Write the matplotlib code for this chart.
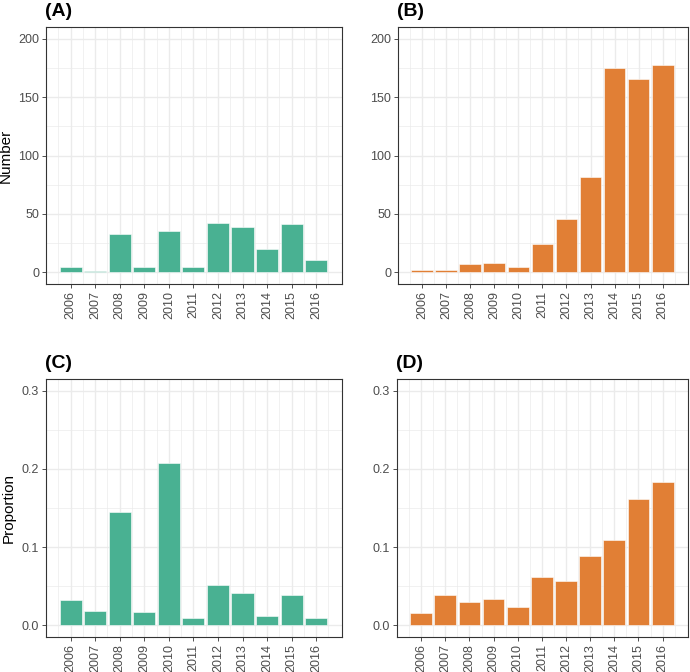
import numpy as np
import matplotlib
matplotlib.use('Agg')
from matplotlib import pyplot as plt
from matplotlib.ticker import MultipleLocator, FixedLocator

plt.rcParams['font.family'] = ['Liberation Sans', 'DejaVu Sans']

#Data
years = [2006, 2007, 2008, 2009, 2010, 2011, 2012, 2013, 2014, 2015, 2016]
number_a = [4.5, 1, 33, 4.5, 35.3, 4.5, 42, 39, 20.3, 41, 10.2]
number_b = [2, 2, 7, 8, 4.5, 24, 46, 82, 174.6, 165.5, 177.7]
prop_c = [0.0325, 0.0188, 0.1444, 0.0167, 0.2077, 0.0098, 0.0513, 0.0419, 0.012, 0.0393, 0.0098]
prop_d = [0.0158, 0.0385, 0.0303, 0.0338, 0.0235, 0.062, 0.0564, 0.0889, 0.109, 0.161, 0.183]

green = '#49b192'
orange = '#e17f35'

fig = plt.figure(figsize=(6.9, 6.72), dpi=100)
W, H = 690.0, 672.0

def make_axes(left, top, right, bottom):
    return fig.add_axes([left / W, 1 - bottom / H, (right - left) / W, (bottom - top) / H])

panels = [
    (make_axes(46, 27, 342, 284), number_a, green, '(A)', 'Number', (-10, 210), 50, 25),
    (make_axes(398, 27, 688, 284), number_b, orange, '(B)', None, (-10, 210), 50, 25),
    (make_axes(46, 379, 342, 637), prop_c, green, '(C)', 'Proportion', (-0.015, 0.315), 0.1, 0.05),
    (make_axes(397, 379, 688, 637), prop_d, orange, '(D)', None, (-0.015, 0.315), 0.1, 0.05),
]

for ax, vals, col, title, ylab, ylim, major, minor in panels:
    ax.bar(years, vals, width=0.9, color=col, edgecolor='white', linewidth=0.4, zorder=3)
    ax.set_xlim(2005.0, 2017.05)
    ax.set_ylim(*ylim)
    ax.xaxis.set_major_locator(FixedLocator(years))
    ax.xaxis.set_minor_locator(FixedLocator([y + 0.5 for y in [2005] + years]))
    ax.yaxis.set_major_locator(MultipleLocator(major))
    ax.yaxis.set_minor_locator(MultipleLocator(minor))
    if major < 1:
        ax.yaxis.set_major_formatter(matplotlib.ticker.FormatStrFormatter('%.1f'))
    ax.grid(which='major', color='#ebebeb', linewidth=1.0, zorder=0)
    ax.grid(which='minor', color='#ebebeb', linewidth=0.5, zorder=0)
    ax.set_axisbelow(True)
    ax.tick_params(axis='both', which='major', length=3, width=0.6, color='#333333',
                   labelsize=9, labelcolor='#4d4d4d', pad=2)
    ax.tick_params(axis='both', which='minor', length=0)
    ax.tick_params(axis='x', labelrotation=90)
    for s in ax.spines.values():
        s.set_color('#333333')
        s.set_linewidth(0.8)
    if ylab:
        ax.set_ylabel(ylab, fontsize=11, labelpad=4)
    ax.set_title(title, loc='left', fontsize=14, fontweight='bold', pad=8, x=-0.005)

plt.savefig('out.png', dpi=100)
